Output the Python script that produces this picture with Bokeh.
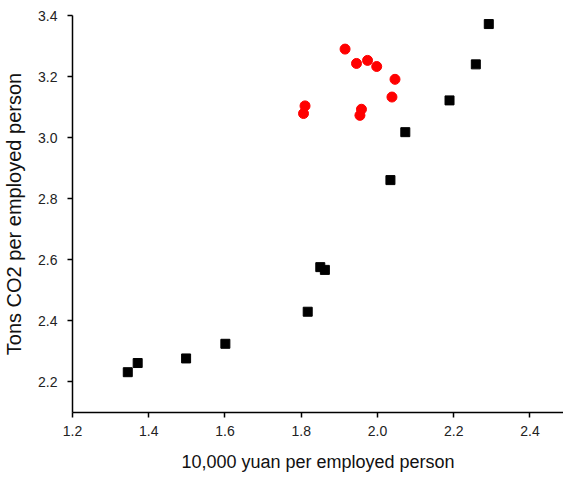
from bokeh.plotting import figure
from bokeh.models import Range1d, CustomJSTickFormatter
from bokeh.embed import file_html
from bokeh.resources import INLINE

# Black squares series
sq_x = [1.345, 1.371, 1.498, 1.601, 1.817, 1.850, 1.862, 2.034, 2.073, 2.189, 2.258, 2.292]
sq_y = [2.232, 2.262, 2.277, 2.325, 2.430, 2.576, 2.567, 2.861, 3.018, 3.122, 3.240, 3.372]

# Red circles series
ci_x = [1.915, 1.945, 1.974, 1.998, 2.046, 2.038, 1.958, 1.954, 1.810, 1.806]
ci_y = [3.290, 3.243, 3.253, 3.233, 3.191, 3.133, 3.093, 3.073, 3.104, 3.079]

x_ticks = [1.2, 1.4, 1.6, 1.8, 2.0, 2.2, 2.4]
y_ticks = [2.2, 2.4, 2.6, 2.8, 3.0, 3.2, 3.4]

p = figure(
    width=563, height=477,
    x_range=Range1d(1.2, 2.488), y_range=Range1d(2.1, 3.4),
    output_backend="svg", toolbar_location=None,
    x_axis_label="10,000 yuan per employed person",
    y_axis_label="Tons CO2 per employed person",
    min_border_left=71, min_border_right=0, min_border_top=15, min_border_bottom=65,
)
p.outline_line_color = None
p.grid.visible = False
p.background_fill_color = "white"
p.border_fill_color = "white"

p.xaxis.ticker = x_ticks
p.yaxis.ticker = y_ticks
p.xaxis.ticker.num_minor_ticks = 2
p.yaxis.ticker.num_minor_ticks = 2

for ax in (p.xaxis, p.yaxis):
    ax.axis_line_color = "black"
    ax.axis_line_width = 1.5
    ax.major_tick_line_color = "black"
    ax.major_tick_line_width = 1.5
    ax.minor_tick_line_color = "black"
    ax.minor_tick_line_width = 1.5
    ax.major_tick_in = 0
    ax.major_tick_out = 5
    ax.minor_tick_in = 0
    ax.minor_tick_out = 3
    ax.major_label_text_font = "Liberation Sans"
    ax.major_label_text_font_size = "14px"
    ax.major_label_text_color = "#222222"
    ax.axis_label_text_font = "Liberation Sans"
    ax.axis_label_text_font_style = "normal"
    ax.axis_label_text_color = "#111111"
    ax.formatter = CustomJSTickFormatter(code="return tick.toFixed(1);")

p.xaxis.axis_label_text_font_size = "18px"
p.yaxis.axis_label_text_font_size = "20px"
p.xaxis.major_label_standoff = 8
p.yaxis.major_label_standoff = 10
p.xaxis.axis_label_standoff = 13
p.yaxis.axis_label_standoff = 10

p.scatter(sq_x, sq_y, marker="square", size=9, fill_color="black", line_color="black")
p.scatter(ci_x, ci_y, marker="circle", size=10, fill_color="#ff0000", line_color="#ff0000")

open("out.html", "w").write(file_html(p, INLINE))
